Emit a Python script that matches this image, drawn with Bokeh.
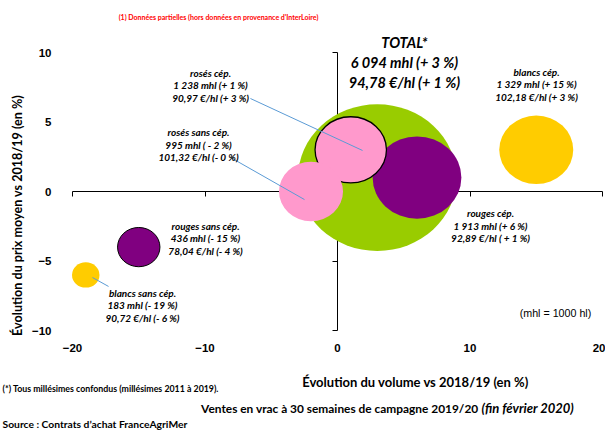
import numpy as np
from bokeh.plotting import figure
from bokeh.models import ColumnDataSource, LinearAxis, FixedTicker, Label
from bokeh.core.properties import value
from bokeh.embed import file_html
from bokeh.resources import INLINE

# ---------------- data ----------------
names = ["TOTAL*", "rouges cép.", "rosés cép.", "rosés sans cép.",
         "blancs cép.", "rouges sans cép.", "blancs sans cép."]
volumes_mhl = [6094, 1913, 1238, 995, 1329, 436, 183]
volume_change = [3, 6, 1, -2, 15, -15, -19]        # % vs 2018/19
prices = [94.78, 92.89, 90.97, 101.32, 102.18, 78.04, 90.72]
price_change = [1, 1, 3, 0, 3, -4, -6]              # % vs 2018/19
volume_texts = ["6 094 mhl (+ 3 %)", "1 913 mhl (+ 6 %)", "1 238 mhl (+ 1 %)",
                "995 mhl ( - 2 %)", "1 329 mhl (+ 15 %)", "436 mhl (- 15 %)",
                "183 mhl (- 19 %)"]
price_texts = ["94,78 €/hl (+ 1 %)", "92,89 €/hl ( + 1 %)", "90,97 €/hl (+ 3 %)",
               "101,32 €/hl (- 0 %)", "102,18 €/hl (+ 3 %)", "78,04 €/hl (- 4 %)",
               "90,72 €/hl (- 6 %)"]
x_ticks = [-20, -10, 0, 10, 20]
y_ticks = [-10, -5, 0, 5, 10]

# ---------------- styles / layout ----------------
colors = ["#99CC00", "#800080", "#FF99CC", "#FF99CC", "#FFCC00", "#800080", "#FFCC00"]
outline_alpha = [0, 0, 1, 0, 0, 1, 0]
outline_width = [0, 0, 1.3, 0, 0, 1.0, 0]
# bubble label block centres (data units) for bubbles 1..6
lab_x = [11.55, -9.58, -10.49, 15.02, -9.96, -14.72]
lab_y = [-2.45, 7.63, 3.38, 7.70, -3.38, -8.20]
# leader lines (data units)
lead_x0 = [-6.57, -8.08, -18.49]
lead_y0 = [6.69, 2.45, -6.19]
lead_x1 = [1.89, -2.49, -17.28]
lead_y1 = [2.95, -0.58, -6.83]

W, H = 605, 430
# the frame fills the whole canvas; the visible axes span -20..20 / -10..10
p = figure(width=W, height=H, x_range=(-25.434, 20.226), y_range=(-17.194, 13.741),
           output_backend="svg", toolbar_location=None,
           min_border_left=0, min_border_right=0, min_border_top=0,
           min_border_bottom=0)
p.outline_line_color = None
p.xgrid.visible = False
p.ygrid.visible = False
p.background_fill_color = "white"

# axes crossing at 0 (drawn under the bubbles)
xa = p.xaxis[0]
xa.fixed_location = 0
xa.bounds = (x_ticks[0], x_ticks[-1])
xa.ticker = FixedTicker(ticks=x_ticks)
xa.major_tick_out = 5
xa.major_tick_in = 0
xa.minor_tick_line_color = None
xa.major_label_text_color = None
xa.axis_line_color = "black"
xa.major_tick_line_color = "black"
xa.level = "underlay"

ya = p.yaxis[0]
ya.fixed_location = 0
ya.bounds = (y_ticks[0], y_ticks[-1])
ya.ticker = FixedTicker(ticks=y_ticks)
ya.major_tick_out = 5
ya.major_tick_in = 0
ya.minor_tick_line_color = None
ya.major_label_text_color = None
ya.axis_line_color = "black"
ya.major_tick_line_color = "black"
ya.level = "underlay"

# tick-label axes along the lower / left edges of the value area
xl = LinearAxis(ticker=FixedTicker(ticks=x_ticks), fixed_location=y_ticks[0],
                axis_line_color=None,
                major_tick_line_color=None, minor_tick_line_color=None,
                major_label_standoff=7,
                major_label_text_font="Liberation Sans",
                major_label_text_font_style="bold",
                major_label_text_font_size="11.5px",
                major_label_text_color="black")
p.add_layout(xl, "below")

yl = LinearAxis(ticker=FixedTicker(ticks=y_ticks), fixed_location=x_ticks[0],
                axis_line_color=None,
                major_tick_line_color=None, minor_tick_line_color=None,
                major_label_standoff=15,
                major_label_text_font="Liberation Sans",
                major_label_text_font_style="bold",
                major_label_text_font_size="11.5px",
                major_label_text_color="black",
                axis_label="Évolution du prix moyen vs 2018/19 (en %)",
                axis_label_text_font="Lato",
                axis_label_text_font_style="bold",
                axis_label_text_font_size="12.6px",
                axis_label_text_color="black",
                axis_label_standoff=4)
p.add_layout(yl, "left")

# bubbles
src = ColumnDataSource(dict(
    x=volume_change, y=price_change,
    w=[2.03 * np.sqrt(v) for v in volumes_mhl],
    h=[1.88 * np.sqrt(v) for v in volumes_mhl],
    c=colors, la=outline_alpha, lw=outline_width))
p.ellipse(x="x", y="y", width="w", height="h", width_units="screen",
          height_units="screen", fill_color="c", line_color="black",
          line_alpha="la", line_width="lw", source=src)

# leader lines
p.segment(x0=lead_x0, y0=lead_y0, x1=lead_x1, y1=lead_y1,
          line_color="#5B9BD5", line_width=1)

# bubble labels, one text row per line
rows = dict(x=[], y=[], t=[], dy=[])
for k, i in enumerate(range(1, len(names))):
    for t, dy in zip([names[i], volume_texts[i], price_texts[i]], [-12.5, 0, 12.5]):
        rows["x"].append(lab_x[k]); rows["y"].append(lab_y[k])
        rows["t"].append(t); rows["dy"].append(dy)
p.text(x="x", y="y", text="t", y_offset="dy", source=ColumnDataSource(rows),
       text_font=value("Lato"), text_font_style="bold italic",
       text_font_size="10px", text_align="center", text_baseline="middle",
       text_color="black")

# TOTAL label
p.text(x=[5.05] * 3, y=[9.28] * 3, y_offset=[-20, 0, 19.5],
       text=[names[0], volume_texts[0], price_texts[0]],
       text_font=value("Lato"), text_font_style="bold italic",
       text_font_size="14.5px", text_align="center", text_baseline="middle",
       text_color="black")

def lab(x, y, t, size, style="bold", align="center", font="Lato", color="black"):
    p.add_layout(Label(x=x, y=y, text=t, text_font=font, text_font_style=style,
                       text_font_size=size, text_align=align,
                       text_baseline="middle", text_color=color))

lab(-8.98, 12.52, "(1) Données partielles (hors données en provenance d'InterLoire)",
    "7px", color="#FF0000")
lab(16.45, -8.71, "(mhl = 1000 hl)", "10.7px", style="normal", font="Liberation Sans")
lab(5.89, -13.74, "Évolution du volume vs 2018/19 (en %)", "13px")
lab(10.64, -15.61, "Ventes en vrac à 30 semaines de campagne 2019/20", "11.9px", align="right")
lab(10.87, -15.61, "(fin février 2020)", "13px", style="bold italic", align="left")
lab(-25.28, -14.17, "(*) Tous millésimes confondus (millésimes 2011 à 2019).", "8.8px", align="left")
lab(-25.28, -16.72, "Source : Contrats d’achat FranceAgriMer", "10.3px", align="left")

open("out.html", "w").write(file_html(p, INLINE))
